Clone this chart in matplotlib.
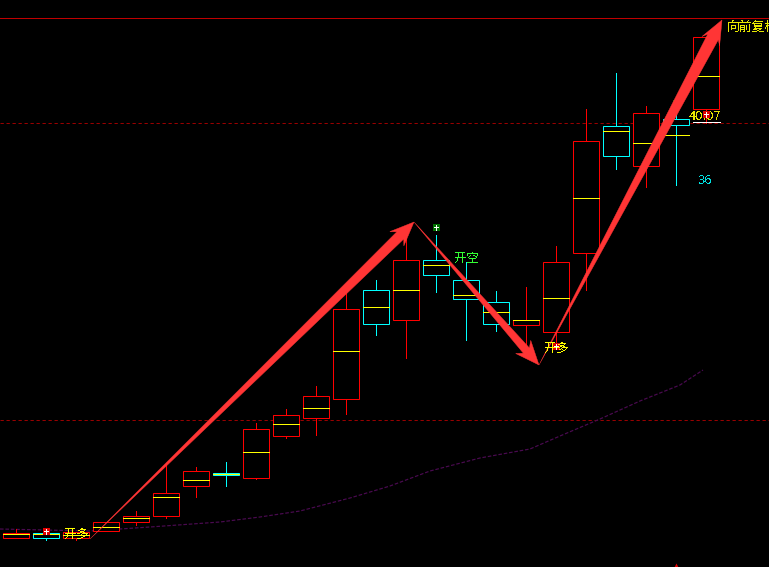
import matplotlib
matplotlib.use('Agg')
import numpy as np
import matplotlib.pyplot as plt
from matplotlib.patches import Rectangle, Polygon

plt.rcParams['font.family'] = ['Noto Sans CJK SC', 'DejaVu Sans']
plt.rcParams['text.antialiased'] = False

# candle values (y axis runs top down)
slots = list(range(24))
highs = [529, 533, 532, 522, 511, 463, 467, 462, 423, 409, 386, 290,
         280, 237, 235, 262, 291, 287, 246, 109, 73, 106, 100, 37]
tops = [533, 533, 532, 522, 516, 493, 471, 473, 429, 415, 396, 309,
        290, 260, 260, 280, 302, 320, 262, 141, 126, 113, 119, 37]
bottoms = [538, 538, 538, 531, 522, 516, 486, 475, 478, 436, 418, 399,
           324, 320, 275, 299, 324, 325, 332, 253, 156, 166, 125, 109]
lows = [538, 540, 540, 531, 525, 518, 497, 486, 479, 438, 435, 414,
        335, 358, 292, 340, 331, 355, 346, 290, 169, 187, 185, 123]
mids = [534, 534, 535, 527, 518, 497, 480, 474, 452, 424, 408, 351,
        307, 290, 265, 295, 312, 320, 298, 198, 131, 143, 135, 76]
colors = ['r', 'c', 'r', 'r', 'r', 'r', 'r', 'c', 'r', 'r', 'r', 'r',
          'c', 'r', 'c', 'c', 'c', 'r', 'r', 'r', 'c', 'r', 'c', 'r']

# moving average
ma_x = [0, 90, 150, 220, 260, 300, 350, 390, 430, 480, 530, 560, 600, 640, 680, 703]
ma_y = [529, 531, 527, 522, 517, 511, 498, 486, 471, 458, 449, 436, 419, 401, 385, 370]

# hand drawn arrows
arrow_x = [[90, 414], [414, 539], [539, 722]]
arrow_y = [[539, 222], [222, 365], [365, 20]]
arrow_shaft = [10, 8, 12]

hlines = [123, 420]
top_line = 18

first_x = 16
step = 30
body = 26

RED = '#ff0000'
CYAN = '#00ffff'
YELLOW = '#ffff00'
ARROW = '#ff3535'
PX = 0.72  # one pixel at dpi 100


def slot_x(i):
    return first_x + i * step


def draw_arrow(ax, xs, ys, shaft, head=20, head_len=24):
    # thin tail widening to the head, like the drawing tool does it
    p0 = np.array([xs[0], ys[0]], dtype=float)
    p1 = np.array([xs[1], ys[1]], dtype=float)
    d = (p1 - p0) / np.hypot(*(p1 - p0))
    n = np.array([-d[1], d[0]])
    neck = p1 - d * head_len * 0.8
    back = p1 - d * head_len
    pts = [p0, neck + n * shaft / 2, back + n * head / 2, p1,
           back - n * head / 2, neck - n * shaft / 2]
    ax.add_patch(Polygon(pts, closed=True, fc=ARROW, ec=ARROW, lw=0.3, zorder=5))


def draw_marker(ax, x, y, fc, z=6):
    ax.add_patch(Rectangle((x - 3.5, y - 3.5), 7, 7, fc=fc, ec='none', zorder=z))
    ax.plot([x, x], [y - 2.5, y + 2.5], color='white', lw=PX, zorder=z + 1)
    ax.plot([x - 2, x + 2], [y, y], color='white', lw=PX, zorder=z + 1)


def main():
    fig = plt.figure(figsize=(7.69, 5.67), dpi=100, facecolor='black')
    ax = fig.add_axes([0, 0, 1, 1])
    ax.set_facecolor('black')
    ax.set_xlim(0, 769)
    ax.set_ylim(567, 0)
    ax.axis('off')

    # grid lines
    ax.axhline(top_line, color='#c00000', lw=PX, zorder=1)
    for y in hlines:
        ax.axhline(y, color='#990000', lw=PX, dashes=(3.3, 2.7), zorder=1)

    # moving average
    ax.plot(ma_x, ma_y, color='#4a0a50', lw=PX * 1.2, dashes=(3, 1.5), zorder=1)

    # candles
    for i in slots:
        x = slot_x(i)
        c = RED if colors[i] == 'r' else CYAN
        ax.plot([x, x], [highs[i], tops[i]], color=c, lw=PX, zorder=2)
        ax.plot([x, x], [bottoms[i], lows[i]], color=c, lw=PX, zorder=2)
        ax.add_patch(Rectangle((x - body / 2, tops[i]), body, bottoms[i] - tops[i],
                               fc='black', ec=c, lw=PX, zorder=3))
        ax.plot([x - body / 2, x + body / 2], [mids[i], mids[i]], color=YELLOW, lw=PX, zorder=4)

    ax.plot([693, 720], [122, 122], color='white', lw=PX, zorder=4)

    # this one sits under the arrow
    draw_marker(ax, 676, 103, '#007000', z=4)

    for xs, ys, s in zip(arrow_x, arrow_y, arrow_shaft):
        draw_arrow(ax, xs, ys, s)

    # trade markers
    draw_marker(ax, 46, 531, '#e00000')
    draw_marker(ax, 436, 227, '#007000')
    draw_marker(ax, 556, 346, '#e00000')
    draw_marker(ax, 706, 114, '#e00000')
    ax.plot([676], [565.5], marker='^', ms=4.5, color='#e00000', mec='none', zorder=6)

    # labels
    ax.text(64, 534, '开多', color=YELLOW, fontsize=8.8, va='center', ha='left', zorder=8)
    ax.text(544, 348, '开多', color=YELLOW, fontsize=8.8, va='center', ha='left', zorder=8)
    ax.text(454, 258, '开空', color='#33ff33', fontsize=8.8, va='center', ha='left', zorder=8)
    ax.text(727, 27, '向前复权', color='#e6e600', fontsize=9.2, va='center', ha='left', zorder=8, clip_on=True)
    ax.text(689, 116, '40.07', color='#e6e600', fontsize=9.4, va='center', ha='left', zorder=5.5)
    ax.text(698, 180, '36', color='#00e0e0', fontsize=9.4, va='center', ha='left', zorder=8)

    fig.savefig('out.png', dpi=100, facecolor='black')


if __name__ == '__main__':
    main()
